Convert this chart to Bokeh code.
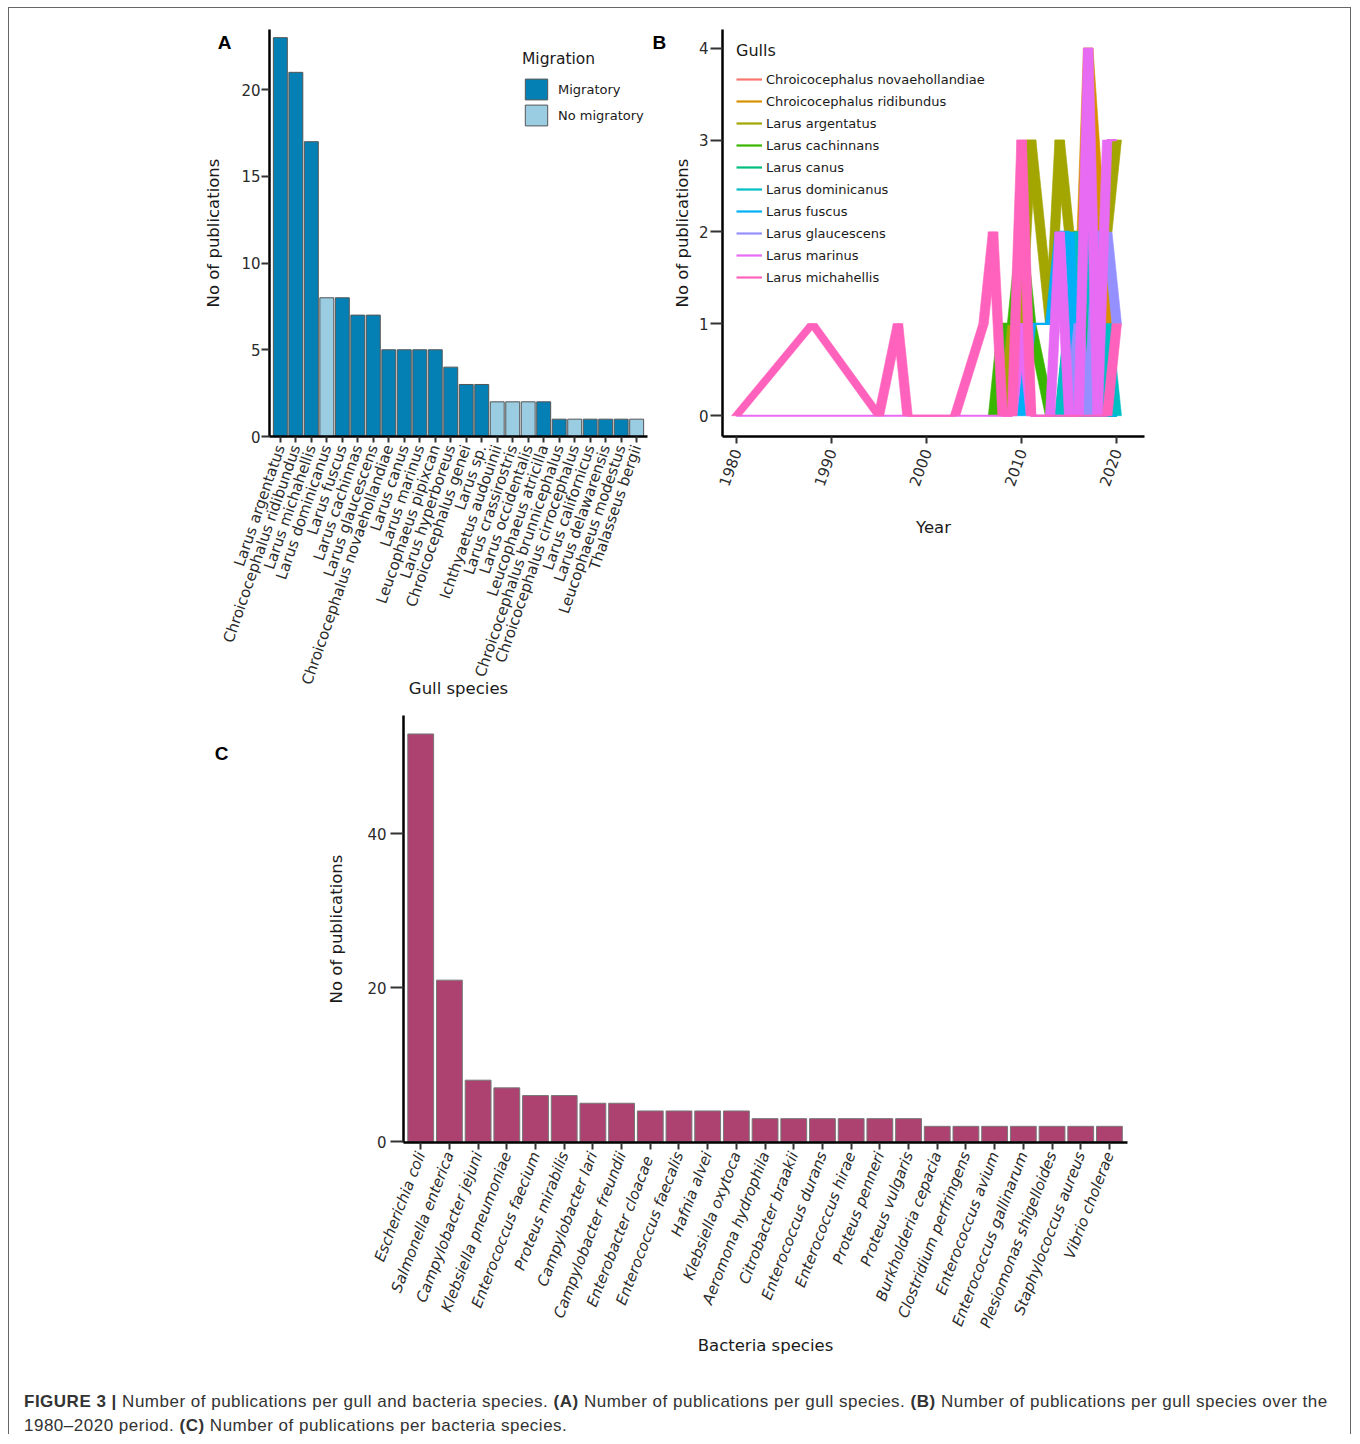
import math
from bokeh.plotting import figure
from bokeh.models import (ColumnDataSource, Range1d, FixedTicker, LinearAxis,
                          Legend, LegendItem, Div)
from bokeh.layouts import row, column
from bokeh.embed import file_html
from bokeh.resources import INLINE

# ---------------- Panel A data ----------------
gull_species = [
    "Larus argentatus", "Chroicocephalus ridibundus", "Larus michahellis",
    "Larus dominicanus", "Larus fuscus", "Larus cachinnas", "Larus glaucescens",
    "Chroicocephalus novaehollandiae", "Larus canus", "Larus marinus",
    "Leucophaeus pipixcan", "Larus hyperboreus", "Chroicocephalus genei",
    "Larus sp.", "Ichthyaetus audouinii", "Larus crassirostris",
    "Larus occidentalis", "Leucophaeus atricilla",
    "Chroicocephalus brunnicephalus", "Chroicocephalus cirrocephalus",
    "Larus californicus", "Larus delawarensis", "Leucophaeus modestus",
    "Thalasseus bergii"]
gull_counts = [23, 21, 17, 8, 8, 7, 7, 5, 5, 5, 5, 4, 3, 3, 2, 2, 2, 2, 1, 1, 1, 1, 1, 1]
gull_migration = ["Migratory", "Migratory", "Migratory", "No migratory", "Migratory",
                  "Migratory", "Migratory", "Migratory", "Migratory", "Migratory",
                  "Migratory", "Migratory", "Migratory", "Migratory", "No migratory",
                  "No migratory", "No migratory", "Migratory", "Migratory",
                  "No migratory", "Migratory", "Migratory", "Migratory", "No migratory"]

# ---------------- Panel B data ----------------
b_names = ["Chroicocephalus novaehollandiae", "Chroicocephalus ridibundus",
           "Larus argentatus", "Larus cachinnans", "Larus canus",
           "Larus dominicanus", "Larus fuscus", "Larus glaucescens",
           "Larus marinus", "Larus michahellis"]
years_novaehollandiae = [2016, 2017, 2018, 2019, 2020]
pubs_novaehollandiae = [0, 2, 0, 1, 1]
years_ridibundus = [2014, 2016, 2017, 2019, 2020]
pubs_ridibundus = [0, 1, 4, 1, 1]
years_argentatus = [2008, 2009, 2010, 2011, 2013, 2014, 2015, 2016, 2017, 2018, 2019, 2020]
pubs_argentatus = [0, 1, 1, 3, 1, 3, 2, 2, 2, 2, 2, 3]
years_cachinnans = [2007, 2008, 2009, 2010, 2011, 2013, 2020]
pubs_cachinnans = [0, 1, 1, 2, 1, 0, 0]
years_canus = [2014, 2015, 2016, 2017, 2018, 2020]
pubs_canus = [0, 1, 2, 1, 0, 0]
years_dominicanus = [2013, 2014, 2015, 2016, 2017, 2018, 2019, 2020]
pubs_dominicanus = [0, 0, 1, 2, 2, 0, 1, 0]
years_fuscus = [2010, 2011, 2013, 2014, 2015, 2016, 2020]
pubs_fuscus = [0, 1, 1, 2, 2, 0, 0]
years_glaucescens = [2009, 2010, 2011, 2015, 2016, 2017, 2018, 2019, 2020]
pubs_glaucescens = [0, 1, 0, 0, 1, 0, 2, 2, 1]
years_marinus = [1980, 2009, 2010, 2011, 2013, 2014, 2015, 2016, 2017, 2018, 2019, 2020]
pubs_marinus = [0, 0, 1, 0, 0, 2, 0, 0, 4, 0, 3, 3]
years_michahellis = [1980, 1988, 1995, 1997, 1998, 2003, 2006, 2007, 2008, 2009, 2010, 2011, 2019, 2020]
pubs_michahellis = [0, 1, 0, 1, 0, 0, 1, 2, 0, 0, 3, 0, 0, 1]
b_year_ticks = [1980, 1990, 2000, 2010, 2020]
b_value_ticks = [0, 1, 2, 3, 4]

# ---------------- Panel C data ----------------
bact_species = [
    "Escherichia coli", "Salmonella enterica", "Campylobacter jejuni",
    "Klebsiella pneumoniae", "Enterococcus faecium", "Proteus mirabilis",
    "Campylobacter lari", "Campylobacter freundii", "Enterobacter  cloacae",
    "Enterococcus faecalis", "Hafnia alvei", "Klebsiella oxytoca",
    "Aeromona hydrophila", "Citrobacter braakii", "Enterococcus durans",
    "Enterococcus hirae", "Proteus penneri", "Proteus vulgaris",
    "Burkholderia cepacia", "Clostridium perfringens", "Enterococcus avium",
    "Enterococcus gallinarum", "Plesiomonas shigelloides",
    "Staphylococcus aureus", "Vibrio cholerae"]
bact_counts = [53, 21, 8, 7, 6, 6, 5, 5, 4, 4, 4, 4, 3, 3, 3, 3, 3, 3, 2, 2, 2, 2, 2, 2, 2]

# ---------------- styles ----------------
FONT = "DejaVu Sans"
mig_colors = {"Migratory": "#0480B4", "No migratory": "#9ACCE2"}
b_colors = ["#F8766D", "#D89000", "#A3A500", "#39B600", "#00BF7D",
            "#00BFC4", "#00B0F6", "#9590FF", "#E76BF3", "#FF62BC"]
bact_color = "#AD4271"


def title_font(ax):
    ax.axis_label_text_font = FONT
    ax.axis_label_text_font_size = "16.5px"
    ax.axis_label_text_font_style = "normal"
    ax.axis_label_text_color = "#1a1a1a"


def style(p, xtick_out, ytick_out, xstand, ystand, xtitle, ytitle, xts, yts):
    p.outline_line_color = None
    p.xgrid.visible = False
    p.ygrid.visible = False
    for ax in (p.xaxis[0], p.yaxis[0]):
        ax.axis_line_width = 2.5
        ax.axis_line_color = "black"
        ax.major_tick_line_width = 2
        ax.major_tick_line_color = "#333333"
        ax.major_tick_in = 0
        ax.minor_tick_line_color = None
        ax.major_label_text_font = FONT
        ax.major_label_text_font_size = "15px"
        ax.major_label_text_color = "#2b2b2b"
        title_font(ax)
    p.xaxis[0].major_tick_out = xtick_out
    p.yaxis[0].major_tick_out = ytick_out
    p.xaxis[0].major_label_standoff = xstand
    p.yaxis[0].major_label_standoff = ystand
    p.xaxis[0].axis_label = xtitle
    p.yaxis[0].axis_label = ytitle
    p.xaxis[0].axis_label_standoff = xts
    if ytitle:
        p.yaxis[0].axis_label_standoff = yts


def letter_axis(p, side, y, t, standoff, title=None, title_standoff=0):
    # an axis with a single labelled tick: carries the panel letter
    ax = LinearAxis(ticker=FixedTicker(ticks=[y]), major_label_overrides={y: t},
                    axis_line_color=None, major_tick_line_color=None,
                    minor_tick_line_color=None, major_tick_out=0, major_tick_in=0,
                    major_label_standoff=standoff,
                    major_label_text_font="Liberation Sans",
                    major_label_text_font_style="bold",
                    major_label_text_font_size="19px",
                    major_label_text_color="black")
    if title:
        ax.axis_label = title
        ax.axis_label_standoff = title_standoff
        title_font(ax)
    p.add_layout(ax, side)


# ---------------- Panel A ----------------
a_pos = list(range(len(gull_species)))
srcA = ColumnDataSource(dict(pos=a_pos, species=gull_species, count=gull_counts,
                             migration=gull_migration,
                             color=[mig_colors[m] for m in gull_migration]))
pA = figure(width=660, height=697,
            x_range=Range1d(-0.7, len(gull_species) - 0.3),
            y_range=Range1d(0, 23.47),
            output_backend="svg", toolbar_location=None,
            min_border_left=260, min_border_right=20,
            min_border_top=15, min_border_bottom=269)
pA.vbar(x="pos", top="count", bottom=0, width=0.9, source=srcA,
        fill_color="color", line_color="#555555", line_width=1,
        legend_field="migration")
style(pA, 6, 8, 3, 1, "Gull species", None, -14, 0)
pA.yaxis[0].ticker = FixedTicker(ticks=[0, 5, 10, 15, 20])
pA.xaxis[0].ticker = FixedTicker(ticks=a_pos)
pA.xaxis[0].major_label_overrides = {i: s for i, s in zip(a_pos, gull_species)}
pA.xaxis[0].major_label_orientation = math.radians(71)
legA = pA.legend[0]
legA.location = (253, 308)
legA.title = "Migration"
legA.title_text_font = FONT
legA.title_text_font_size = "15.5px"
legA.title_text_font_style = "normal"
legA.title_text_color = "#1a1a1a"
legA.title_standoff = 8
legA.label_text_font = FONT
legA.label_text_font_size = "13px"
legA.label_text_color = "#1a1a1a"
legA.glyph_width = 28
legA.glyph_height = 26
legA.label_height = 26
legA.label_standoff = 8
legA.spacing = 0
legA.padding = 0
legA.margin = 0
legA.border_line_color = None
legA.background_fill_alpha = 0
letter_axis(pA, "left", 22.7, "A", 7, title="No of publications", title_standoff=-8)
letter_axis(pA, "right", 22.7, "B", 5)

# ---------------- Panel B ----------------
pB = figure(width=681, height=697,
            x_range=Range1d(1978.55, 2022.92), y_range=Range1d(-0.226, 4.203),
            output_backend="svg", toolbar_location=None,
            min_border_left=53, min_border_right=206,
            min_border_top=21, min_border_bottom=269)
style(pB, 7, 12, 6, 2, "Year", "No of publications", 26, 4)
pB.xaxis[0].ticker = FixedTicker(ticks=b_year_ticks)
pB.yaxis[0].ticker = FixedTicker(ticks=b_value_ticks)
pB.xaxis[0].major_label_orientation = math.radians(70)

b_years = [years_novaehollandiae, years_ridibundus, years_argentatus,
           years_cachinnans, years_canus, years_dominicanus, years_fuscus,
           years_glaucescens, years_marinus, years_michahellis]
b_pubs = [pubs_novaehollandiae, pubs_ridibundus, pubs_argentatus,
          pubs_cachinnans, pubs_canus, pubs_dominicanus, pubs_fuscus,
          pubs_glaucescens, pubs_marinus, pubs_michahellis]

HALF = 0.5  # half-width of the thick strokes, in years
items = []
for name, xs, ys, col in zip(b_names, b_years, b_pubs, b_colors):
    qx, qy = [], []
    for i in range(len(xs) - 1):
        if ys[i] == ys[i + 1]:
            continue
        qx.append([xs[i] - HALF, xs[i + 1] - HALF, xs[i + 1] + HALF, xs[i] + HALF])
        qy.append([ys[i], ys[i + 1], ys[i + 1], ys[i]])
    if qx:
        pB.patches(qx, qy, fill_color=col, line_color=col, line_width=0.6)
    r = pB.line(xs, ys, line_color=col, line_width=2.2)
    items.append(LegendItem(label=name, renderers=[r]))

legB = Legend(items=items, location=(14, 148), title="Gulls",
              title_text_font=FONT, title_text_font_size="16px",
              title_text_font_style="normal", title_text_color="#1a1a1a",
              title_standoff=8,
              label_text_font=FONT, label_text_font_size="13px",
              label_text_color="#1a1a1a",
              glyph_width=26, glyph_height=22, label_height=22,
              label_standoff=4, spacing=0, padding=0, margin=0,
              border_line_color=None, background_fill_alpha=0)
pB.add_layout(legB)

# ---------------- Panel C ----------------
c_pos = list(range(len(bact_species)))
srcC = ColumnDataSource(dict(pos=c_pos, species=bact_species, count=bact_counts))
pC = figure(width=1341, height=665,
            x_range=Range1d(-0.6, len(bact_species) - 0.37),
            y_range=Range1d(-0.1, 55.4),
            output_backend="svg", toolbar_location=None,
            min_border_left=394, min_border_right=223,
            min_border_top=10, min_border_bottom=228)
pC.vbar(x="pos", top="count", bottom=0, width=0.9, source=srcC,
        fill_color=bact_color, line_color="#777777", line_width=1)
style(pC, 7, 13, 3, 4, "Bacteria species", "No of publications", -1, 18)
pC.yaxis[0].ticker = FixedTicker(ticks=[0, 20, 40])
pC.xaxis[0].ticker = FixedTicker(ticks=c_pos)
pC.xaxis[0].major_label_overrides = {i: s for i, s in zip(c_pos, bact_species)}
pC.xaxis[0].major_label_orientation = math.radians(69)
pC.xaxis[0].major_label_text_font_style = "italic"
letter_axis(pC, "left", 50.4, "C", 96)

# ---------------- Caption ----------------
caption = Div(
    text=('<div style="font-family:\'Liberation Sans\',Arial,sans-serif;'
          'font-size:17px;letter-spacing:0.5px;color:#333;line-height:24px;'
          'white-space:nowrap;padding:20px 0 0 15px;">'
          '<b>FIGURE 3 |</b> Number of publications per gull and bacteria species. '
          '<b>(A)</b> Number of publications per gull species. '
          '<b>(B)</b> Number of publications per gull species over the<br>'
          '1980&#8211;2020 period. <b>(C)</b> Number of publications per bacteria species.'
          '</div>'),
    width=1341, height=64, margin=0)

layout = column(row(pA, pB), pC, caption, margin=(7, 0, 0, 8),
                styles={"border-top": "1.5px solid #666",
                        "border-left": "1.5px solid #666",
                        "border-right": "1.5px solid #666"})

open("out.html", "w").write(file_html(layout, INLINE))
